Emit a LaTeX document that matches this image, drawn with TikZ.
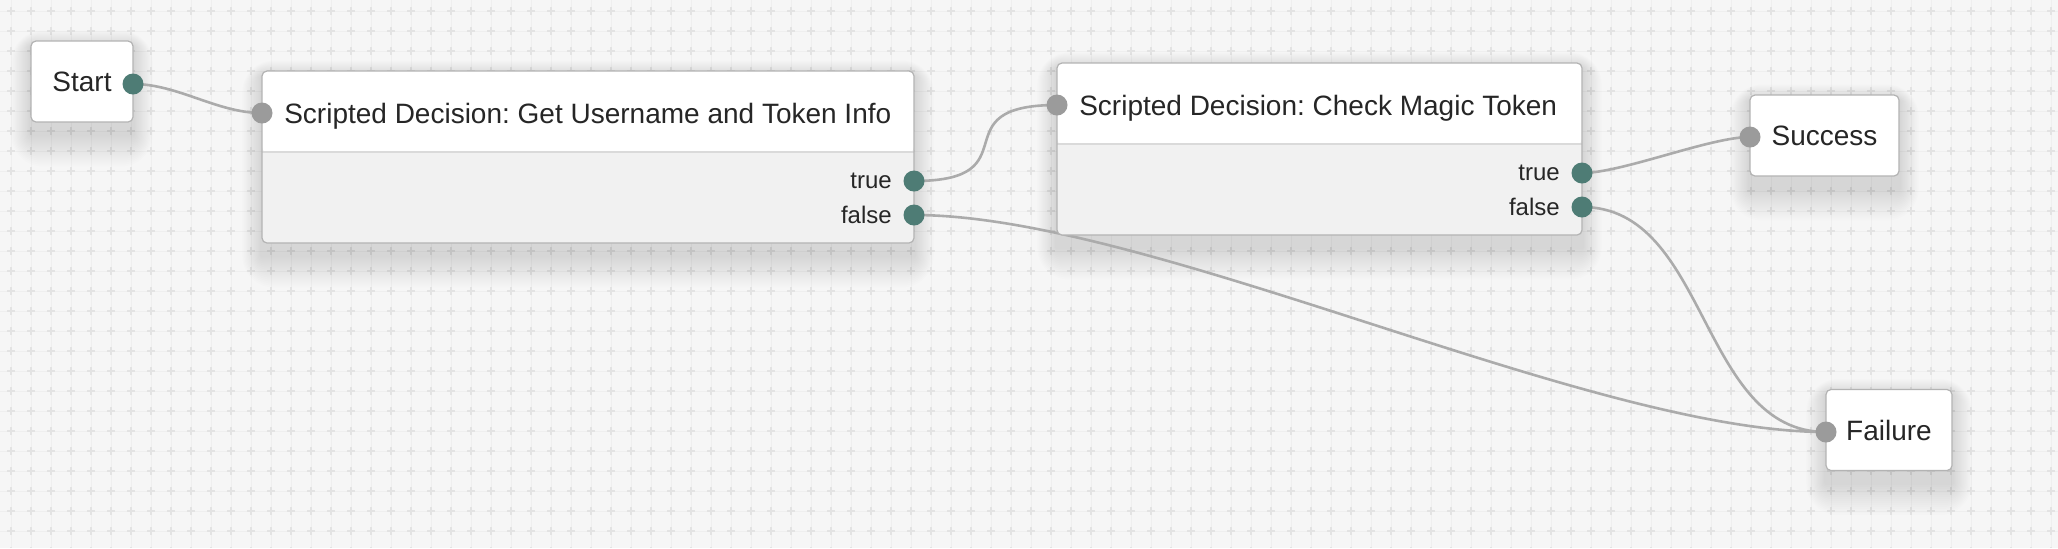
\documentclass[tikz,border=0pt]{standalone}
\usepackage{fontspec}
\setmainfont{Liberation Sans}
\usetikzlibrary{positioning}

\definecolor{canvas}{HTML}{F6F6F6}
\definecolor{gridln}{HTML}{EFEFEF}
\definecolor{gridx}{HTML}{E3E3E3}
\definecolor{boxline}{HTML}{B3B3B3}
\definecolor{band}{HTML}{F1F1F1}
\definecolor{divline}{HTML}{DADADA}
\definecolor{inkcol}{HTML}{262626}
\definecolor{portout}{HTML}{4E7C75}
\definecolor{portin}{HTML}{9B9B9B}
\definecolor{wirecol}{HTML}{ABABAB}

\pgfdeclarelayer{bg}
\pgfdeclarelayer{wires}
\pgfsetlayers{bg,wires,main}

\frenchspacing

\begin{document}
\begin{tikzpicture}[
    x=0.5pt, y=-0.5pt,
    every node/.style={inner sep=1pt, text=inkcol}, % labels sit close to their ports
    box/.style={draw=boxline, line width=0.6pt, rounded corners=2.5pt, fill=white},
    terminal/.style={box, minimum height=40.5pt, font=\fontsize{14}{16}\selectfont},
    decision/.style={box, fill=band, minimum height=86pt,
        path picture={
            \fill[white] (path picture bounding box.north west) rectangle ([yshift=-40.5pt]path picture bounding box.north east);
            \draw[divline, line width=0.8pt] ([yshift=-40.5pt]path picture bounding box.north west) -- ([yshift=-40.5pt]path picture bounding box.north east);}},
    nodetitle/.style={font=\fontsize{14}{16}\selectfont, text depth=0pt},
    outcome/.style={font=\fontsize{12}{14}\selectfont, text depth=0pt},
    inport/.style={circle, fill=portin, minimum size=10.5pt, inner sep=0pt},
    outport/.style={circle, fill=portout, minimum size=10.5pt, inner sep=0pt},
    wire/.style={draw=wirecol, line width=1.3pt},
    softshade/.style={fill=black, opacity=0.009}
]
\useasboundingbox (0,0) rectangle (2058,548);

% draw the tree nodes
\node[terminal, minimum width=51pt] (start) at (82,81.5) {Start};
\node[decision, minimum width=326pt] (gu) at (588,157) {};
\node[decision, minimum width=262.5pt] (cmt) at (1319.5,149) {};
\node[terminal, minimum width=74.5pt] (success) at (1824.5,135.5) {Success};
\node[terminal, minimum width=63pt] (failure) at (1889,430) {Failure};

% the ports
\node[outport] (start-out) at (133,84) {};
\node[inport] (gu-in) at (262,113) {};
\node[outport] (gu-true) at (914,181) {};
\node[outport] (gu-false) at (914,215) {};
\node[inport] (cmt-in) at (1057,105) {};
\node[outport] (cmt-true) at (1582,173) {};
\node[outport] (cmt-false) at (1582,207) {};
\node[inport] (success-in) at (1750,137) {};
\node[inport] (failure-in) at (1826,432) {};

% titles and outcomes
\node[nodetitle, right=4.5pt of gu-in] (gu-title) {Scripted Decision: Get Username and Token Info};
\node[outcome, left=4.5pt of gu-true] (gu-true-lbl) {true};
\node[outcome, left=4.5pt of gu-false] (gu-false-lbl) {false};
\node[nodetitle, right=4.5pt of cmt-in] (cmt-title) {Scripted Decision: Check Magic Token};
\node[outcome, left=4.5pt of cmt-true] (cmt-true-lbl) {true};
\node[outcome, left=4.5pt of cmt-false] (cmt-false-lbl) {false};

% the canvas grid and the soft shadows
\begin{pgfonlayer}{bg}
\fill[canvas] (0,0) rectangle (2058,548);
\foreach \x in {11,31,...,2051} \draw[gridln, line width=0.5pt] (\x,0) -- (\x,548);
\foreach \y in {11,31,...,531} \draw[gridln, line width=0.5pt] (0,\y) -- (2058,\y);
\foreach \x in {11,31,...,2051} \draw[gridx, line width=0.8pt, dash pattern=on 4pt off 6pt, dash phase=6.5pt] (\x,0) -- (\x,548);
\foreach \y in {11,31,...,531} \draw[gridx, line width=0.8pt, dash pattern=on 4pt off 6pt, dash phase=6.5pt] (0,\y) -- (2058,\y);
\foreach \n in {start,gu,cmt,success,failure}
  \foreach \s in {1,...,16}
    \fill[softshade, rounded corners=\s pt] ([xshift=-0.6*\s pt, yshift=-3pt+0.5*\s pt]\n.north west) rectangle ([xshift=0.6*\s pt, yshift=-6pt-\s pt]\n.south east);
\end{pgfonlayer}

% draw the connections
\begin{pgfonlayer}{wires}
\path[wire]
(start-out.center) .. controls +(45,0) and +(-45,0) .. (gu-in.center)
(gu-true.center) .. controls +(120,0) and +(-120,0) .. (cmt-in.center)
(gu-false.center) .. controls +(238,0) and +(-238,0) .. (failure-in.center)
(cmt-true.center) .. controls +(40,0) and +(-40,0) .. (success-in.center)
(cmt-false.center) .. controls +(127,0) and +(-127,0) .. (failure-in.center);
\end{pgfonlayer}
\end{tikzpicture}
\end{document}
